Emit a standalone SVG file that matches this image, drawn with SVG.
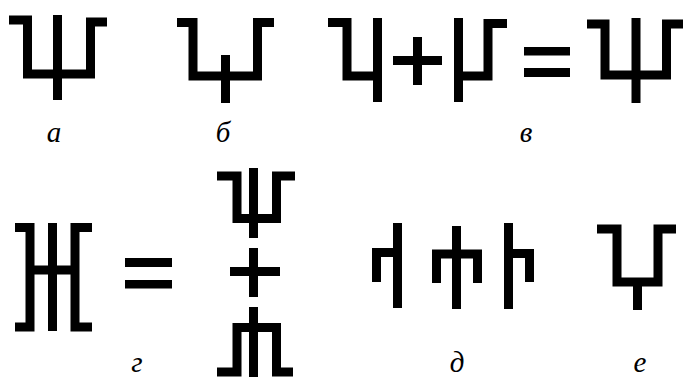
<svg xmlns="http://www.w3.org/2000/svg" width="685" height="379" viewBox="0 0 685 379">
<style>
.s{fill:none;stroke:#000;stroke-width:9;stroke-linejoin:miter;stroke-linecap:butt}
.f{fill:#000}
.l{font-family:'Liberation Serif','DejaVu Serif',serif;font-style:italic;font-size:29px;fill:#000;text-anchor:middle}
</style>
<rect width="685" height="379" fill="#fff"/>
<g id="sign-a">
<path class="s" d="M9,20 H27.5 V74 H90.5 V22 H107"/>
<path class="s" d="M57.5,15 V100"/>
</g>
<g id="sign-b">
<path class="s" d="M177,22.5 H193 V76 H257.5 V22.5 H274"/>
<path class="s" d="M225.5,55 V103"/>
</g>
<g id="sign-v">
<path class="s" d="M328,22.5 H347 V76 H377.5"/>
<path class="s" d="M377.5,18 V102"/>
<path class="s" d="M393,60.5 H442 M417.5,37 V85"/>
<path class="s" d="M458.5,18 V102"/>
<path class="s" d="M458.5,76 H488 V23.5 H507"/>
<rect class="f" x="524" y="47" width="46" height="8.5"/>
<rect class="f" x="524" y="68" width="46" height="9"/>
<path class="s" d="M587,24 H605 V75 H666.5 V24 H683"/>
<path class="s" d="M636,18 V103"/>
</g>
<g id="sign-g">
<path class="s" d="M15,227.5 H30 V327 H15"/>
<path class="s" d="M52.5,223 V331"/>
<path class="s" d="M92,227.5 H75 V327 H92"/>
<path class="s" d="M30,270 H75"/>
<rect class="f" x="125" y="258" width="47" height="9"/>
<rect class="f" x="125" y="280" width="47" height="8.5"/>
<path class="s" d="M217,176 H237 V218.5 H276.5 V176 H295"/>
<path class="s" d="M253.5,168 V238"/>
<path class="s" d="M230,271.5 H280 M253.5,248 V297"/>
<path class="s" d="M253.5,307 V377"/>
<path class="s" d="M217,372 H237 V327.5 H276.5 V372 H293"/>
</g>
<g id="sign-d">
<path class="s" d="M397.5,223 V308"/>
<path class="s" d="M376.5,282 V252.5 H397.5"/>
<path class="s" d="M456.5,226 V309"/>
<path class="s" d="M436.5,283 V254 H477.5 V283"/>
<path class="s" d="M508.5,223 V309"/>
<path class="s" d="M508.5,253.5 H529.5 V282"/>
</g>
<g id="sign-e">
<path class="s" d="M597,229 H617 V282 H658 V229 H676"/>
<path class="s" d="M637.5,282 V310"/>
</g>
<g id="labels">
<text class="l" x="54" y="142">а</text>
<text class="l" x="223" y="142">б</text>
<text class="l" x="526" y="142">в</text>
<text class="l" x="137" y="372">г</text>
<text class="l" x="457" y="372">д</text>
<text class="l" x="640" y="372">е</text>
</g>
</svg>
